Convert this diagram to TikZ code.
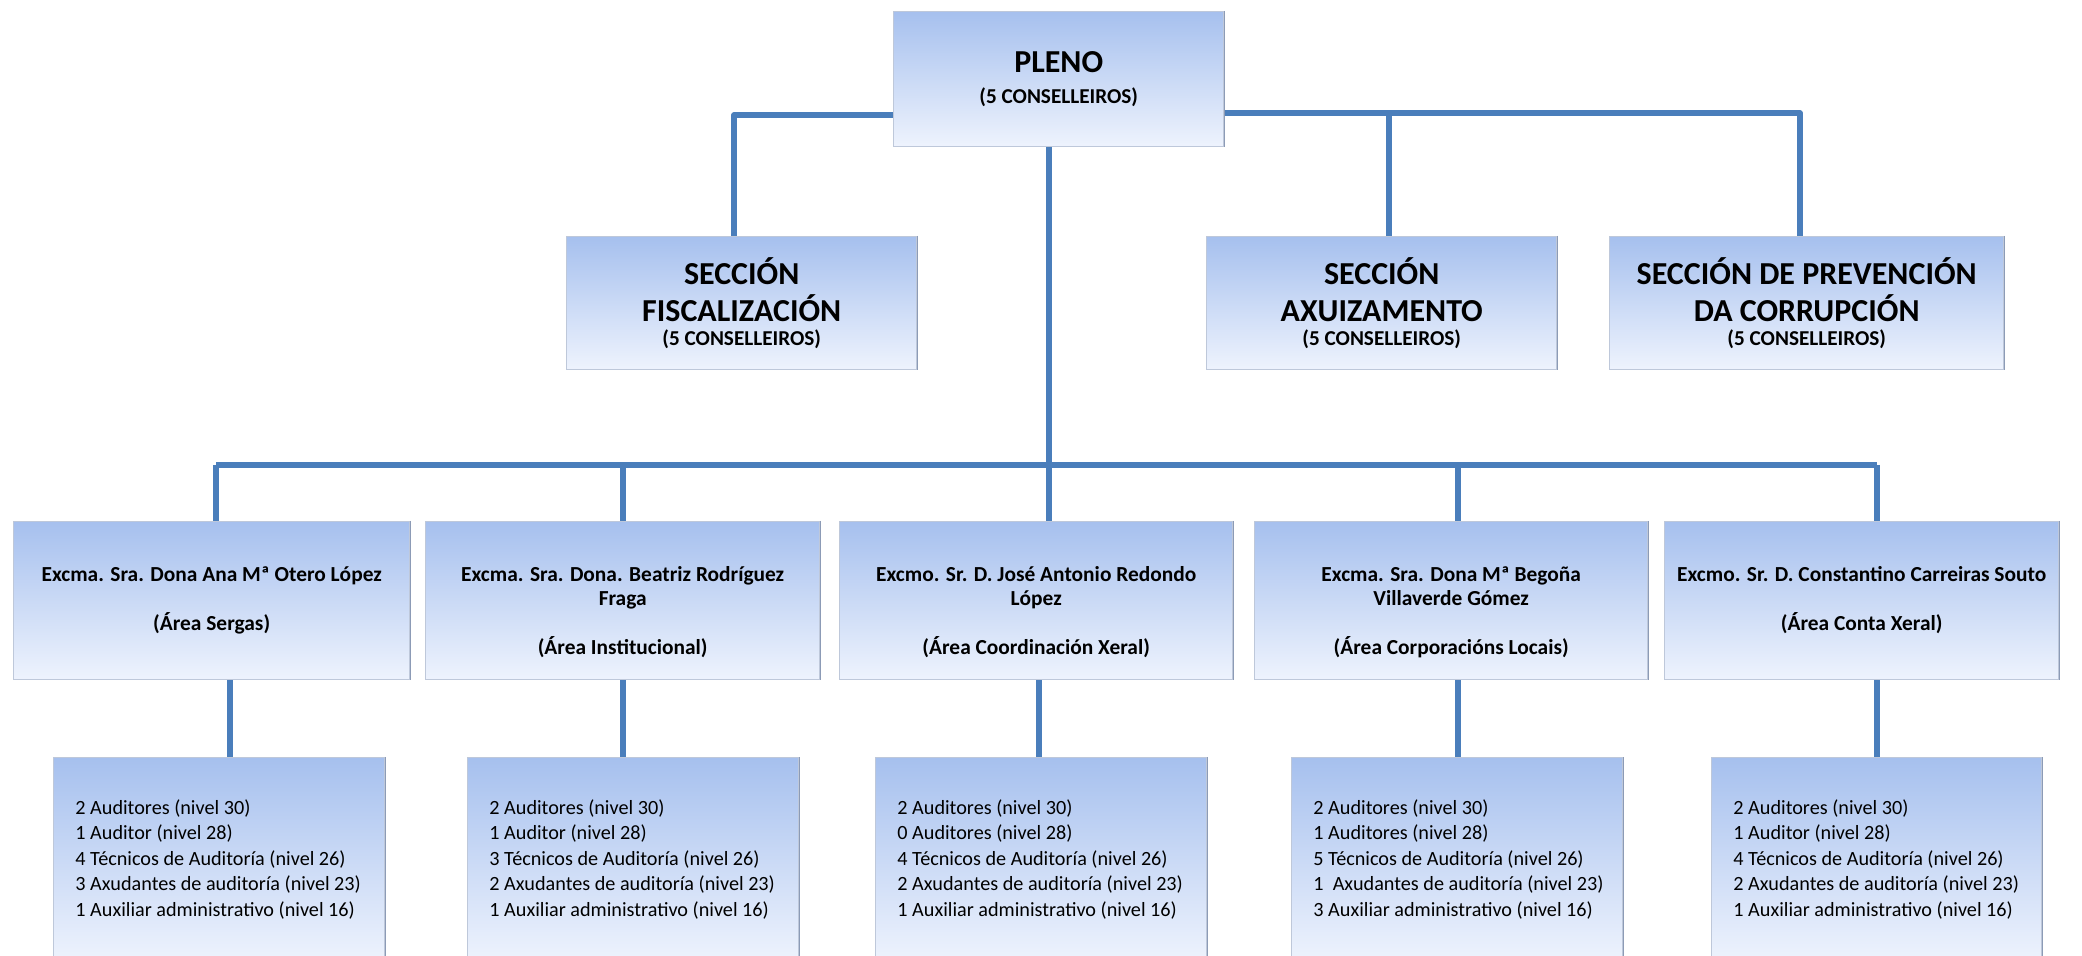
\documentclass[tikz,border=0pt]{standalone}
\usepackage{fontspec}
\setmainfont{Carlito}
\usetikzlibrary{calc}
\definecolor{linec}{RGB}{74,126,187}
\definecolor{boxtop}{RGB}{166,192,238}
\definecolor{boxbot}{RGB}{238,243,253}
\definecolor{boxedge}{RGB}{190,200,218}
\definecolor{boxshadow}{RGB}{140,155,182}
\begin{document}
\begin{tikzpicture}[x=0.5pt,y=-0.5pt,
  box/.style={draw=boxedge, line width=0.7pt, top color=boxtop, bottom color=boxbot,
    inner sep=0pt, anchor=north west, align=center},
  sect/.style={box, font=\fontsize{16}{18.5}\selectfont\bfseries},
  small/.style={},
  conn/.style={draw=linec, line width=2.6pt, line join=round},
  mtext/.style={anchor=north, inner sep=0pt, align=center, font=\fontsize{10.7}{12.2}\selectfont\bfseries},
  btext/.style={anchor=north west, inner sep=0pt, align=left, font=\fontsize{10.1}{12.75}\selectfont},
  shadowedge/.style={draw=boxshadow, line width=0.8pt}]
\path[use as bounding box, clip] (0,0) rectangle (2082,956);

% x positions of connectors
\coordinate (xl) at (734,0);
\coordinate (xr) at (1800,0);
\coordinate (xax) at (1389,0);
\coordinate (xc) at (1049,0);
\coordinate (ly) at (0,115);
\coordinate (ry) at (0,113);
\coordinate (bus) at (0,465);
\coordinate (bx1) at (216,0);
\coordinate (bx2) at (623,0);
\coordinate (bx3) at (1049,0);
\coordinate (bx4) at (1458,0);
\coordinate (bx5) at (1877,0);
\coordinate (dx1) at (230,0);
\coordinate (dx2) at (623,0);
\coordinate (dx3) at (1039,0);
\coordinate (dx4) at (1458,0);
\coordinate (dx5) at (1877,0);

% connectors (drawn first, under boxes)
\draw[conn] (893,115) coordinate (pw) -| (xl |- 0,236);
\draw[conn] (1223,113) coordinate (pe) -| (xr |- 0,236);
\draw[conn] (xax |- ry) -- (xax |- 0,236);
\draw[conn] (xc |- 0,146) -- (xc |- bus);
\draw[conn] (bx1 |- bus) -- (bx5 |- bus);
\foreach \i in {1,...,5}{
  \draw[conn] (bx\i |- bus) -- (bx\i |- 0,521);
  \draw[conn] (dx\i |- 0,679) -- (dx\i |- 0,757);
}

% top level
\newcommand\consel{{\fontsize{10.6}{12}\selectfont (5 CONSELLEIROS)}}
\node[sect, minimum width=165pt, minimum height=67.5pt] (pleno) at (893,11)
  {PLENO\\[-3.1pt]\consel};
\node[sect, minimum width=175pt, minimum height=66.5pt] (s1) at (566,236)
  {SECCIÓN\\FISCALIZACIÓN\\[-6.7pt]\consel};
\node[sect, minimum width=175pt, minimum height=66.5pt] (s2) at (1206,236)
  {SECCIÓN\\AXUIZAMENTO\\[-6.7pt]\consel};
\node[sect, minimum width=197pt, minimum height=66.5pt] (s3) at (1609,236)
  {SECCIÓN DE PREVENCIÓN\\DA CORRUPCIÓN\\[-6.7pt]\consel};

% middle boxes
\node[box, minimum width=198pt, minimum height=79pt] (m1) at (13,521) {};
\node[box, minimum width=197pt, minimum height=79pt] (m2) at (425,521) {};
\node[box, minimum width=196.5pt, minimum height=79pt] (m3) at (839,521) {};
\node[box, minimum width=196.5pt, minimum height=79pt] (m4) at (1254,521) {};
\node[box, minimum width=197pt, minimum height=79pt] (m5) at (1664,521) {};

% bottom boxes
\node[box, minimum width=165.5pt, minimum height=102pt] (b1) at (53,757) {};
\node[box, minimum width=165.5pt, minimum height=102pt] (b2) at (467,757) {};
\node[box, minimum width=165.5pt, minimum height=102pt] (b3) at (875,757) {};
\node[box, minimum width=165.5pt, minimum height=102pt] (b4) at (1291,757) {};
\node[box, minimum width=165pt, minimum height=102pt] (b5) at (1711,757) {};

\foreach \n in {pleno,s1,s2,s3,m1,m2,m3,m4,m5,b1,b2,b3,b4,b5}{
  \draw[shadowedge] (\n.north east) -- (\n.south east);
}

% middle texts
\node[mtext] (m1t) at ($(m1.north)+(0,45)$)
  {Excma. Sra. Dona Ana Mª Otero López\\[12.2pt](Área Sergas)};
\node[mtext] (m2t) at ($(m2.north)+(0,45)$)
  {Excma. Sra. Dona. Beatriz Rodríguez\\Fraga\\[12.2pt](Área Institucional)};
\node[mtext] (m3t) at ($(m3.north)+(0,45)$)
  {Excmo. Sr. D. José Antonio Redondo\\López\\[12.2pt](Área Coordinación Xeral)};
\node[mtext] (m4t) at ($(m4.north)+(0,45)$)
  {Excma. Sra. Dona Mª Begoña\\Villaverde Gómez\\[12.2pt](Área Corporacións Locais)};
\node[mtext] (m5t) at ($(m5.north)+(0,45)$)
  {Excmo. Sr. D. Constantino Carreiras Souto\\[12.2pt](Área Conta Xeral)};

% bottom texts
\node[btext] (b1t) at ($(b1.north west)+(22,42)$)
  {2 Auditores (nivel 30)\\1 Auditor (nivel 28)\\4 Técnicos de Auditoría (nivel 26)\\3 Axudantes de auditoría (nivel 23)\\1 Auxiliar administrativo (nivel 16)};
\node[btext] (b2t) at ($(b2.north west)+(22,42)$)
  {2 Auditores (nivel 30)\\1 Auditor (nivel 28)\\3 Técnicos de Auditoría (nivel 26)\\2 Axudantes de auditoría (nivel 23)\\1 Auxiliar administrativo (nivel 16)};
\node[btext] (b3t) at ($(b3.north west)+(22,42)$)
  {2 Auditores (nivel 30)\\0 Auditores (nivel 28)\\4 Técnicos de Auditoría (nivel 26)\\2 Axudantes de auditoría (nivel 23)\\1 Auxiliar administrativo (nivel 16)};
\node[btext] (b4t) at ($(b4.north west)+(22,42)$)
  {2 Auditores (nivel 30)\\1 Auditores (nivel 28)\\5 Técnicos de Auditoría (nivel 26)\\1\ \ Axudantes de auditoría (nivel 23)\\3 Auxiliar administrativo (nivel 16)};
\node[btext] (b5t) at ($(b5.north west)+(22,42)$)
  {2 Auditores (nivel 30)\\1 Auditor (nivel 28)\\4 Técnicos de Auditoría (nivel 26)\\2 Axudantes de auditoría (nivel 23)\\1 Auxiliar administrativo (nivel 16)};
\end{tikzpicture}
\end{document}
